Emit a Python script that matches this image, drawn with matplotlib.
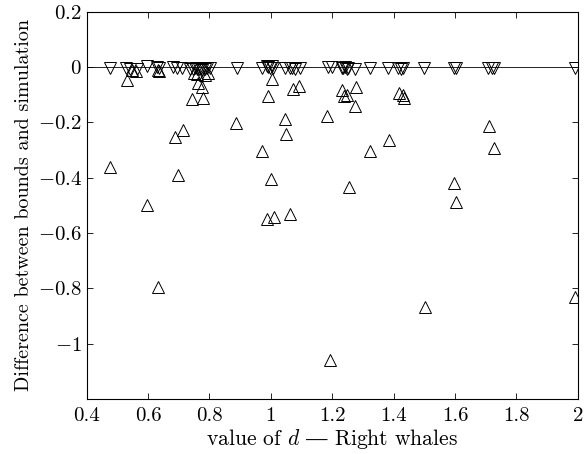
import matplotlib
matplotlib.use('agg')
import matplotlib.pyplot as plt

plt.rcParams['font.family'] = ['cmr10', 'DejaVu Serif']
plt.rcParams['mathtext.fontset'] = 'cm'
plt.rcParams['axes.unicode_minus'] = False
plt.rcParams['axes.formatter.use_mathtext'] = True

# lower bound (down triangles), close to zero
low_x = [0.476, 0.528, 0.540, 0.563, 0.597, 0.628, 0.636, 0.682, 0.693, 0.709,
         0.736, 0.745, 0.752, 0.760, 0.766, 0.772, 0.777, 0.784, 0.791, 0.802,
         0.890, 0.970, 0.986, 0.992, 0.997, 1.003, 1.008, 1.046, 1.062, 1.070,
         1.078, 1.095, 1.187, 1.198, 1.231, 1.236, 1.241, 1.247, 1.252, 1.274,
         1.323, 1.382, 1.415, 1.425, 1.431, 1.500, 1.598, 1.603, 1.708, 1.720,
         1.727, 1.990]
low_y = [-0.004, -0.004, -0.006, -0.006, 0.004, 0.002, -0.002, 0.002, -0.002, -0.004,
         -0.006, -0.008, -0.004, -0.006, -0.008, -0.004, -0.010, -0.006, -0.004, -0.004,
         -0.003, -0.003, 0.004, 0.002, -0.004, 0.003, -0.004, -0.002, -0.004, -0.003,
         -0.005, -0.004, 0.002, 0.001, -0.002, -0.004, 0.001, -0.006, -0.003, -0.005,
         -0.004, -0.003, -0.004, -0.006, -0.003, -0.003, -0.004, -0.002, -0.004, -0.003,
         -0.002, -0.004]

# upper bound (up triangles)
up_x = [0.476, 0.532, 0.547, 0.560, 0.597, 0.632, 0.636, 0.632, 0.688, 0.696,
        0.713, 0.742, 0.750, 0.758, 0.762, 0.775, 0.778, 0.785, 0.795, 0.886,
        0.972, 0.986, 0.992, 1.000, 1.003, 1.011, 1.046, 1.049, 1.062, 1.073,
        1.092, 1.184, 1.193, 1.233, 1.238, 1.247, 1.254, 1.274, 1.277, 1.323,
        1.384, 1.418, 1.429, 1.434, 1.502, 1.597, 1.602, 1.710, 1.727, 1.990]
up_y = [-0.360, -0.046, -0.012, -0.014, -0.499, -0.010, -0.014, -0.796, -0.251, -0.390,
        -0.227, -0.116, -0.020, -0.025, -0.058, -0.072, -0.110, -0.030, -0.022, -0.203,
        -0.302, -0.550, -0.106, -0.404, -0.043, -0.541, -0.188, -0.241, -0.531, -0.079,
        -0.067, -0.176, -1.060, -0.082, -0.106, -0.100, -0.434, -0.140, -0.073, -0.302,
        -0.263, -0.094, -0.100, -0.112, -0.867, -0.418, -0.487, -0.212, -0.293, -0.831]

x_ticks = [0.4, 0.6, 0.8, 1.0, 1.2, 1.4, 1.6, 1.8, 2.0]
x_labels = ['0.4', '0.6', '0.8', '1', '1.2', '1.4', '1.6', '1.8', '2']
y_ticks = [0.2, 0, -0.2, -0.4, -0.6, -0.8, -1.0, -1.2]
y_labels = ['$0.2$', '$0$', '$-0.2$', '$-0.4$', '$-0.6$', '$-0.8$', '$-1$', '']

fig = plt.figure(figsize=(5.86, 4.54), dpi=100)
ax = fig.add_axes([0.148, 0.121, 0.838, 0.853])

ax.axhline(0, color='black', lw=0.6, zorder=1)
ax.plot(low_x, low_y, 'v', ms=9, mfc='none', mec='black', mew=0.7, zorder=2)
ax.plot(up_x, up_y, '^', ms=9, mfc='none', mec='black', mew=0.7, zorder=2)

ax.set_xlim(0.4, 2.0)
ax.set_ylim(-1.2, 0.2)
ax.set_xticks(x_ticks)
ax.set_xticklabels(x_labels)
ax.set_yticks(y_ticks)
ax.set_yticklabels(y_labels)
ax.tick_params(direction='in', top=True, right=True, labelsize=15, length=4, width=0.6)
ax.tick_params(axis='x', pad=6)
for s in ax.spines.values():
    s.set_linewidth(0.8)

ax.set_xlabel('value of $d$ $\\mathrm{\u2014}$ Right whales', fontsize=15.5, labelpad=1)
ax.set_ylabel('Difference between bounds and simulation', fontsize=14.5, labelpad=3)

plt.savefig('out.png', dpi=100)
plt.close()
